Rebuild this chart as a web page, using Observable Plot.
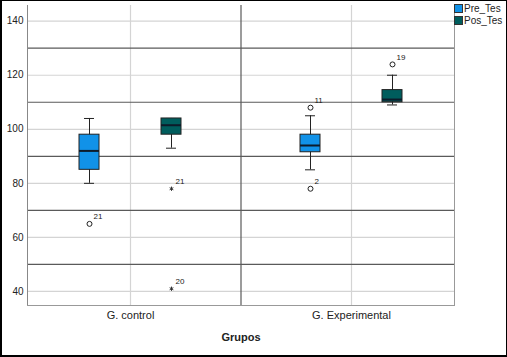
<!DOCTYPE html>
<html><head><meta charset="utf-8">
<script src="https://cdn.jsdelivr.net/npm/d3@7"></script>
<script src="https://cdn.jsdelivr.net/npm/@observablehq/plot@0.6"></script>
<style>
body{margin:0;background:#fff;font-family:"Liberation Sans",Arial,sans-serif;}
#wrap{position:relative;width:507px;height:357px;overflow:hidden;background:#fff;}
#chart{position:absolute;left:0;top:0;}
#border{position:absolute;left:0;top:0;width:507px;height:357px;box-sizing:border-box;border:1px solid #000;border-left-width:2px;border-bottom-width:2px;pointer-events:none;}
#legend{position:absolute;left:454px;top:3px;font-size:10px;line-height:12px;color:#222;}
#legend div{white-space:nowrap;}
.sw{display:inline-block;width:7px;height:7px;margin-right:1px;vertical-align:-1px;border:1px solid #333;}
</style></head>
<body><div id="wrap"><div id="chart"></div><div id="legend"></div><div id="border"></div></div>
<script>
const groups = ["G. control", "G. Experimental"];
const series = ["Pre_Tes", "Pos_Tes"];
const seriesColors = ["#1192e8", "#005d5d"];

// box summaries (one entry per group x series)
const boxGroup = ["G. control", "G. control", "G. Experimental", "G. Experimental"];
const boxSeries = ["Pre_Tes", "Pos_Tes", "Pre_Tes", "Pos_Tes"];
const whiskerLow = [80, 93, 85, 109];
const q1 = [85, 98, 91.5, 110];
const median = [92, 101.5, 94, 111];
const q3 = [98, 104, 98, 114.5];
const whiskerHigh = [104, 104, 105, 120];

// outliers
const outGroup = ["G. control", "G. control", "G. control", "G. Experimental", "G. Experimental", "G. Experimental"];
const outSeries = ["Pre_Tes", "Pos_Tes", "Pos_Tes", "Pre_Tes", "Pre_Tes", "Pos_Tes"];
const outValue = [65, 78, 41, 108, 78, 124];
const outLabel = ["21", "21", "20", "11", "2", "19"];
const outKind = ["circle", "star", "star", "circle", "circle", "circle"];

const yTicks = [40, 60, 80, 100, 120, 140];
const yMajorLines = [50, 70, 90, 110, 130];
const yDomain = [34.8, 145.8];
const xTitle = "Grupos";

const boxes = boxGroup.map((g, i) => ({group: g, series: boxSeries[i], lo: whiskerLow[i], q1: q1[i], med: median[i], q3: q3[i], hi: whiskerHigh[i]}));
const outliers = outGroup.map((g, i) => ({group: g, series: outSeries[i], value: outValue[i], label: outLabel[i], kind: outKind[i]}));

const dodge = {"Pre_Tes": -41, "Pos_Tes": 41};
const ink = "#222";

const seriesMarks = series.flatMap((s) => {
  const b = boxes.filter(d => d.series === s);
  const o = outliers.filter(d => d.series === s);
  const dx = dodge[s];
  return [
    Plot.ruleX(b, {x: "group", y1: "lo", y2: "hi", dx, stroke: ink, strokeWidth: 1}),
    Plot.ruleY(b, {y: "lo", x1: "group", x2: "group", dx, insetLeft: -5, insetRight: -5, stroke: ink}),
    Plot.ruleY(b, {y: "hi", x1: "group", x2: "group", dx, insetLeft: -5, insetRight: -5, stroke: ink}),
    Plot.rectY(b, {x1: "group", x2: "group", y1: "q1", y2: "q3", dx, insetLeft: -10, insetRight: -10, fill: "series", stroke: ink, strokeWidth: 1}),
    Plot.ruleY(b, {y: "med", x1: "group", x2: "group", dx, insetLeft: -10, insetRight: -10, stroke: "#0d1b2a", strokeWidth: 2}),
    Plot.dot(o.filter(d => d.kind === "circle"), {x: "group", y: "value", dx, r: 2.5, stroke: ink, fill: "white", strokeWidth: 1}),
    Plot.dot(o.filter(d => d.kind === "star"), {x: "group", y: "value", dx, r: 2, symbol: "asterisk", stroke: "#333", strokeWidth: 1}),
    Plot.text(o, {x: "group", y: "value", text: "label", dx: dx + 4, dy: -7, textAnchor: "start", fontSize: 8, fill: ink})
  ];
});

const chart = Plot.plot({
  width: 507,
  height: 357,
  marginTop: 5,
  marginBottom: 52,
  marginLeft: 27,
  marginRight: 53,
  style: {fontFamily: "'Liberation Sans', Arial, sans-serif", fontSize: "10px", color: ink, background: "transparent"},
  x: {type: "point", domain: groups, padding: 0.466, label: null},
  y: {domain: yDomain, label: null},
  color: {domain: series, range: seriesColors},
  marks: [
    Plot.ruleY(yTicks, {stroke: "#d4d4d4", strokeWidth: 1.2}),
    Plot.ruleX(groups, {stroke: "#d4d4d4", strokeWidth: 1.2}),
    Plot.ruleY(yMajorLines, {stroke: "#5a5a5a", strokeWidth: 1.2}),
    Plot.ruleX([0], {x: null, stroke: "#5a5a5a", strokeWidth: 1.2}),
    Plot.frame({anchor: "left", stroke: "#888"}),
    Plot.frame({anchor: "right", stroke: "#999"}),
    Plot.frame({anchor: "bottom", stroke: "#999"}),
    Plot.axisY({ticks: yTicks, tickSize: 0, tickPadding: 4, fontSize: 10, label: null}),
    Plot.axisX({tickSize: 0, tickPadding: 6, fontSize: 11, label: null}),
    Plot.text([xTitle], {frameAnchor: "bottom", dy: 35, fontSize: 11, fontWeight: "bold", fill: ink}),
    ...seriesMarks
  ]
});
document.getElementById("chart").appendChild(chart);

const legend = document.getElementById("legend");
series.forEach((s, i) => {
  const row = document.createElement("div");
  const sw = document.createElement("span");
  sw.className = "sw";
  sw.style.background = seriesColors[i];
  row.appendChild(sw);
  row.appendChild(document.createTextNode(s));
  legend.appendChild(row);
});
</script>
</body></html>
